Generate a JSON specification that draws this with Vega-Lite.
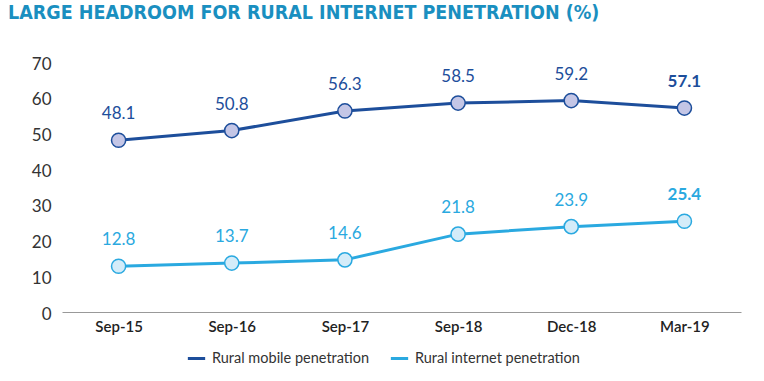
{
  "$schema": "https://vega.github.io/schema/vega-lite/v6.json",
  "width": 679,
  "height": 250,
  "autosize": "none",
  "padding": {"left": 62, "top": 62, "right": 23, "bottom": 69},
  "background": "white",
  "config": {"view": {"stroke": null}},
  "title": {
    "text": "LARGE HEADROOM FOR RURAL INTERNET PENETRATION (%)",
    "anchor": "start",
    "frame": "group",
    "dx": -54,
    "offset": 32,
    "font": "DejaVu Sans Condensed",
    "fontSize": 19.5,
    "fontWeight": "bold",
    "color": "#1a8fc0"
  },
  "data": {
    "values": [
      {"period": "Sep-15", "series": "Rural mobile penetration", "value": 48.1},
      {"period": "Sep-16", "series": "Rural mobile penetration", "value": 50.8},
      {"period": "Sep-17", "series": "Rural mobile penetration", "value": 56.3},
      {"period": "Sep-18", "series": "Rural mobile penetration", "value": 58.5},
      {"period": "Dec-18", "series": "Rural mobile penetration", "value": 59.2},
      {"period": "Mar-19", "series": "Rural mobile penetration", "value": 57.1},
      {"period": "Sep-15", "series": "Rural internet penetration", "value": 12.8},
      {"period": "Sep-16", "series": "Rural internet penetration", "value": 13.7},
      {"period": "Sep-17", "series": "Rural internet penetration", "value": 14.6},
      {"period": "Sep-18", "series": "Rural internet penetration", "value": 21.8},
      {"period": "Dec-18", "series": "Rural internet penetration", "value": 23.9},
      {"period": "Mar-19", "series": "Rural internet penetration", "value": 25.4}
    ]
  },
  "encoding": {
    "x": {
      "field": "period",
      "type": "ordinal",
      "sort": ["Sep-15", "Sep-16", "Sep-17", "Sep-18", "Dec-18", "Mar-19"],
      "scale": {"type": "point", "padding": 0.5},
      "axis": {
        "title": null,
        "labelAngle": 0,
        "ticks": false,
        "domainColor": "#999999",
        "domainWidth": 1,
        "labelFont": "Lato",
        "labelFontSize": 15,
        "labelFontWeight": 600,
        "labelColor": "#222222",
        "labelPadding": 7
      }
    },
    "y": {
      "field": "value",
      "type": "quantitative",
      "scale": {"domain": [0, 70], "nice": false},
      "axis": {
        "title": null,
        "values": [0, 10, 20, 30, 40, 50, 60, 70],
        "grid": false,
        "domain": false,
        "ticks": false,
        "labelFont": "Lato",
        "labelFontSize": 17,
        "labelColor": "#333333",
        "labelPadding": 11,
        "labelOffset": 2
      }
    },
    "color": {
      "field": "series",
      "type": "nominal",
      "scale": {
        "domain": ["Rural mobile penetration", "Rural internet penetration"],
        "range": ["#1d4e9b", "#2aa9e0"]
      },
      "legend": {
        "title": null,
        "orient": "none",
        "direction": "horizontal",
        "legendX": 124,
        "legendY": 286,
        "symbolType": "stroke",
        "symbolStrokeWidth": 3,
        "symbolSize": 300,
        "labelFont": "Lato",
        "labelFontSize": 14.5,
        "labelColor": "#333333",
        "labelLimit": 400,
        "columnPadding": 14,
        "labelOffset": 5
      }
    }
  },
  "layer": [
    {"mark": {"type": "line", "strokeWidth": 3}},
    {
      "mark": {"type": "point", "filled": false, "size": 200, "strokeWidth": 1.5, "opacity": 1},
      "encoding": {
        "fill": {
          "field": "series",
          "type": "nominal",
          "scale": {
            "domain": ["Rural mobile penetration", "Rural internet penetration"],
            "range": ["#c4c6e6", "#d4ecf9"]
          },
          "legend": null
        }
      }
    },
    {
      "transform": [{"filter": "datum.period !== 'Mar-19'"}],
      "mark": {"type": "text", "dy": -26, "font": "Lato", "fontSize": 17},
      "encoding": {"text": {"field": "value", "type": "quantitative", "format": ".1f"}}
    },
    {
      "transform": [{"filter": "datum.period === 'Mar-19'"}],
      "mark": {"type": "text", "dy": -26, "font": "Lato", "fontSize": 17, "fontWeight": "bold"},
      "encoding": {"text": {"field": "value", "type": "quantitative", "format": ".1f"}}
    }
  ]
}
